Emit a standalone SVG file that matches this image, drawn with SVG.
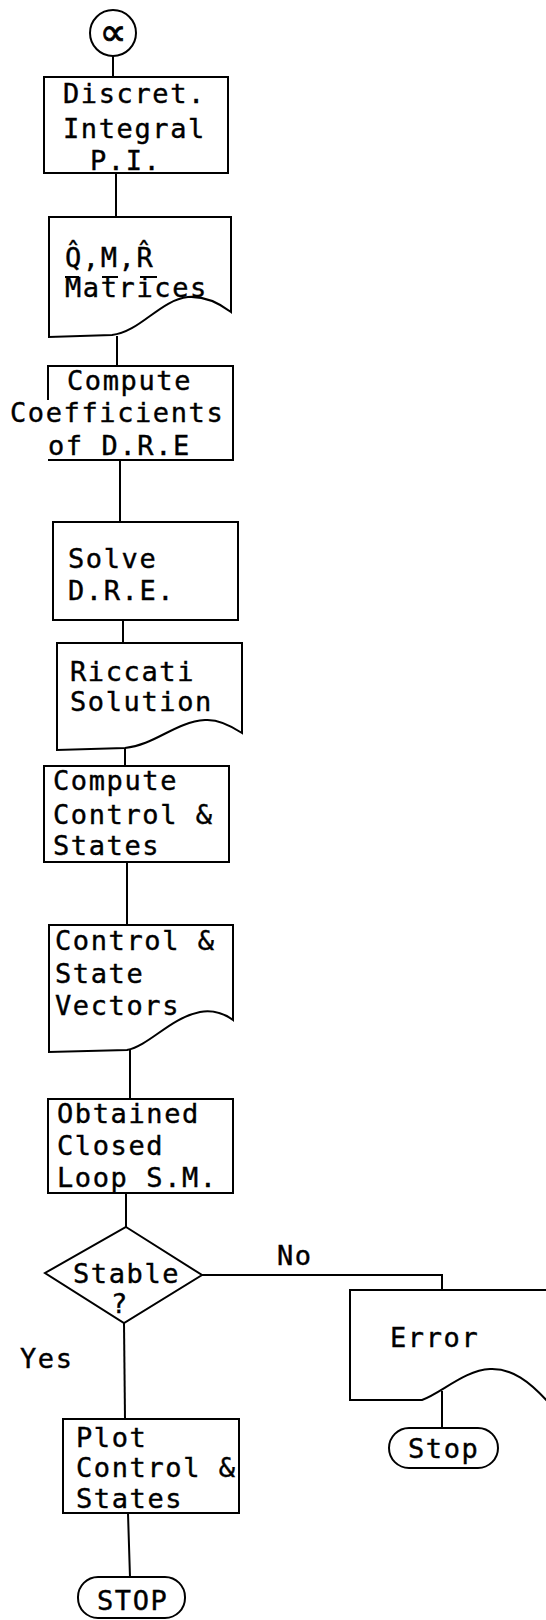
<svg xmlns="http://www.w3.org/2000/svg" width="546" height="1620" viewBox="0 0 546 1620">
<style>
.s{fill:none;stroke:#000;stroke-width:2;stroke-linejoin:miter}
.t{font-family:"DejaVu Sans Mono","Liberation Mono",monospace;font-size:27px;letter-spacing:1.6px;fill:#000;stroke:#000;stroke-width:0.4}
</style>
<rect width="546" height="1620" fill="#fff"/>
<g id="connectors" class="s">
<line x1="113" y1="56" x2="113" y2="77"/>
<line x1="116" y1="173" x2="116" y2="217"/>
<line x1="117" y1="336" x2="117" y2="366"/>
<line x1="120" y1="460" x2="120" y2="522"/>
<line x1="123" y1="620" x2="123" y2="643"/>
<line x1="125" y1="748" x2="125" y2="766"/>
<line x1="127" y1="862" x2="127" y2="925"/>
<line x1="130" y1="1050" x2="130" y2="1099"/>
<line x1="126" y1="1193" x2="126" y2="1227"/>
<polyline points="202,1275 442,1275 442,1290"/>
<line x1="124" y1="1323" x2="125" y2="1419"/>
<line x1="442" y1="1391" x2="442" y2="1428"/>
<line x1="128" y1="1513" x2="130" y2="1577"/>
</g>
<g id="labels">
<text class="t" x="277" y="1265">No</text>
<text class="t" x="20" y="1368">Yes</text>
</g>
<g id="start">
<circle class="s" cx="113" cy="33" r="23"/>
<text x="113" y="45" text-anchor="middle" font-family="DejaVu Sans,sans-serif" font-size="38" stroke="#000" stroke-width="0.8">∝</text>
</g>
<g id="discret">
<rect class="s" x="44" y="77" width="184" height="96"/>
<text class="t" x="63" y="103">Discret.</text>
<text class="t" x="63" y="138">Integral</text>
<text class="t" x="90" y="170">P.I.</text>
</g>
<g id="matrices">
<path class="s" d="M49,217 H231 V312 C215,300 202,296 188,297 C160,300 140,332 112,335 L49,337 Z"/>
<text class="t" x="65" y="267">Q̂,M,R̂</text>
<g class="s"><line x1="65" y1="277" x2="79" y2="277"/><line x1="102" y1="277" x2="118" y2="277"/><line x1="140" y1="277" x2="157" y2="277"/></g>
<text class="t" x="65" y="297">Matrices</text>
</g>
<g id="coefficients">
<path class="s" d="M48,400 V366 H233 V460 H48"/>
<text class="t" x="67" y="390">Compute</text>
<text class="t" x="10" y="422">Coefficients</text>
<text class="t" x="48" y="455">of D.R.E</text>
</g>
<g id="solve">
<rect class="s" x="53" y="522" width="185" height="98"/>
<text class="t" x="68" y="568">Solve</text>
<text class="t" x="68" y="600">D.R.E.</text>
</g>
<g id="riccati">
<path class="s" d="M57,643 H242 V733 C230,725 218,719 205,720 C175,722 155,745 125,748 L57,750 Z"/>
<text class="t" x="70" y="681">Riccati</text>
<text class="t" x="70" y="711">Solution</text>
</g>
<g id="compute-control">
<rect class="s" x="44" y="766" width="185" height="96"/>
<text class="t" x="53" y="790">Compute</text>
<text class="t" x="53" y="824">Control &amp;</text>
<text class="t" x="53" y="855">States</text>
</g>
<g id="vectors">
<path class="s" d="M49,925 H233 V1020 C222,1012 212,1010 200,1012 C170,1018 150,1045 127,1050 L49,1052 Z"/>
<text class="t" x="55" y="950">Control &amp;</text>
<text class="t" x="55" y="983">State</text>
<text class="t" x="55" y="1015">Vectors</text>
</g>
<g id="closed-loop">
<rect class="s" x="48" y="1099" width="185" height="94"/>
<text class="t" x="57" y="1123">Obtained</text>
<text class="t" x="57" y="1155">Closed</text>
<text class="t" x="57" y="1187">Loop S.M.</text>
</g>
<g id="stable">
<polygon class="s" points="126,1227 202,1275 124,1323 45,1273"/>
<text class="t" x="73" y="1283">Stable</text>
<text class="t" x="111" y="1313">?</text>
</g>
<g id="error">
<path class="s" d="M546,1290 H350 V1400 H422 C440,1394 465,1370 490,1369 C512,1368 530,1382 548,1402"/>
<text class="t" x="390" y="1347">Error</text>
</g>
<g id="stop-error">
<rect class="s" x="389" y="1428" width="109" height="40" rx="20"/>
<text class="t" x="408" y="1458">Stop</text>
</g>
<g id="plot">
<rect class="s" x="63" y="1419" width="176" height="94"/>
<text class="t" x="76" y="1447">Plot</text>
<text class="t" x="76" y="1477">Control &amp;</text>
<text class="t" x="76" y="1508">States</text>
</g>
<g id="stop">
<rect class="s" x="78" y="1577" width="107" height="41" rx="20"/>
<text class="t" x="97" y="1610">STOP</text>
</g>
</svg>
